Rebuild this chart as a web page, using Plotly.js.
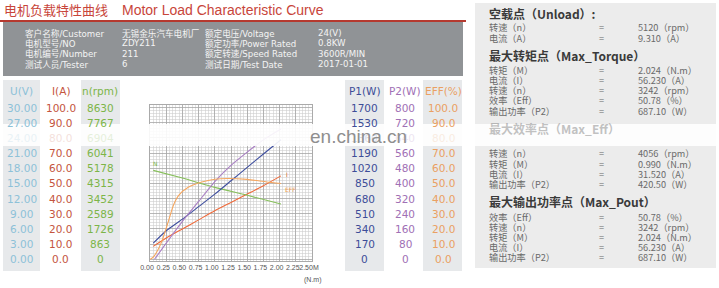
<!DOCTYPE html>
<html><head><meta charset="utf-8">
<script src="https://cdn.plot.ly/plotly-3.0.1.min.js"></script>
<style>html,body{margin:0;padding:0;background:#fff}#chart{width:719px;height:288px}</style>
</head><body><div id="chart"></div>
<script>
const W = 719, H = 288;

// ---- axis tick labels ----
const torqueTickVals = [0, 0.25, 0.5, 0.75, 1.0, 1.25, 1.5, 1.75, 2.0, 2.25, 2.5];
const torqueTickText = ['0.00','0.25','0.50','0.75','1.00','1.25','1.50','1.75','2.00','2.25','2.50M'];

const uTickVals = [0, 3, 6, 9, 12, 15, 18, 21, 24, 27, 30];
const uTickText = ['0.00','3.00','6.00','9.00','12.00','15.00','18.00','21.00','24.00','27.00','30.00'];
const iTickVals = [0, 10, 20, 30, 40, 50, 60, 70, 80, 90, 100];
const iTickText = ['0.0','10.0','20.0','30.0','40.0','50.0','60.0','70.0','80.0','90.0','100.0'];
const nTickVals = [0, 863, 1726, 2589, 3452, 4315, 5178, 6041, 6904, 7767, 8630];
const nTickText = ['0','863','1726','2589','3452','4315','5178','6041','6904','7767','8630'];
const p1TickVals = [0, 170, 340, 510, 680, 850, 1020, 1190, 1360, 1530, 1700];
const p1TickText = ['0','170','340','510','680','850','1020','1190','1360','1530','1700'];
const p2TickVals = [0, 80, 160, 240, 320, 400, 480, 560, 640, 720, 800];
const p2TickText = ['0','80','160','240','320','400','480','560','640','720','800'];
const effTickVals = [0, 10, 20, 30, 40, 50, 60, 70, 80, 90, 100];
const effTickText = ['0.0','10.0','20.0','30.0','40.0','50.0','60.0','70.0','80.0','90.0','100.0'];

// ---- curves (torque in N.m) ----
const nTorque = [0.05, 0.5, 1.0, 1.5, 2.02];
const nSpeed  = [5060, 4620, 4090, 3640, 3150];
const iTorque  = [0.05, 0.25, 0.5, 0.75, 1.0, 1.25, 1.5, 1.75, 2.02];
const iCurrent = [8.5, 14, 20, 26, 32, 37.5, 43, 48.5, 55];
const p1Torque = [0.05, 0.25, 0.5, 0.75, 1.0, 1.25, 1.5, 1.75, 2.02];
const p1Power  = [180, 320, 450, 590, 730, 880, 1030, 1180, 1340];
const p2Torque = [0.07, 0.25, 0.5, 0.75, 1.0, 1.25, 1.5, 1.75, 2.02];
const p2Power  = [0, 85, 200, 305, 410, 495, 565, 630, 687];
const effTorque = [0, 0.05, 0.1, 0.18, 0.28, 0.36, 0.44, 0.59, 0.8, 1.0, 1.2, 1.5, 1.8, 2.02];
const effValue  = [0, 1.5, 4.5, 11.5, 24.5, 35.5, 42, 47.5, 51, 52.8, 53.3, 52.7, 51, 50];

// ---- info texts ----
const infoLabels1 = ['客户名称/Customer','电机型号/NO','电机编号/Number','测试人员/Tester'];
const infoValues1 = ['无锡金乐汽车电机厂','ZDY211','211','6'];
const infoLabels2 = ['额定电压/Voltage','额定功率/Power Rated','额定转速/Speed Rated','测试日期/Test Date'];
const infoValues2 = ['24(V)','0.8KW','3600R/MIN','2017-01-01'];

const panelHeaders = [
  ['空载点（Unload）:', 13.7],
  ['最大转矩点（Max_Torque）', 55],
  ['最大效率点（Max_Eff）', 128.5],
  ['最大输出功率点（Max_Pout）', 201.7]
];
const panelItems = [
  ['转速（n）','5120（rpm）',27.3],
  ['电流（A）','9.310（A）',37.7],
  ['转矩（M）','2.024（N.m）',70],
  ['电流（I）','56.230（A）',80],
  ['转速（n）','3242（rpm）',90],
  ['效率（Eff）','50.78（%）',100],
  ['输出功率（P2）','687.10（W）',110.5],
  ['转速（n）','4056（rpm）',153.3],
  ['转矩（M）','0.990（N.m）',163.8],
  ['电流（I）','31.520（A）',174],
  ['输出功率（P2）','420.50（W）',184.2],
  ['效率（Eff）','50.78（%）',217.3],
  ['转速（n）','3242（rpm）',227.3],
  ['转矩（M）','2.024（N.m）',237.3],
  ['电流（I）','56.230（A）',247.3],
  ['输出功率（P2）','687.10（W）',257.3]
];

// ---- geometry helpers ----
const px = x => x / W;
const py = y => 1 - y / H;
const ROW0 = 259.3, ROWH = 15.17;
const yLo = -0.1, yHi = 10.2;
const domBot = ROW0 - yLo * ROWH, domTop = ROW0 - yHi * ROWH;
const yDomain = [py(domBot), py(domTop)];
const xDomain = [px(150), px(312)];
const bandTop = 124, bandBot = 146;

const CUST = {
  u:  {vals: uTickVals,  text: uTickText,  color: '#8dc1d8', header: 'U(V)',   cx: 21.5, ax: 'y2'},
  i:  {vals: iTickVals,  text: iTickText,  color: '#c4553e', header: 'I(A)',   cx: 61,   ax: 'y3'},
  n:  {vals: nTickVals,  text: nTickText,  color: '#7cb548', header: 'n(rpm)', cx: 100,  ax: 'y4'},
  p1: {vals: p1TickVals, text: p1TickText, color: '#3d4d98', header: 'P1(W)',  cx: 365,  ax: 'y5'},
  p2: {vals: p2TickVals, text: p2TickText, color: '#a070b5', header: 'P2(W)',  cx: 405,  ax: 'y6'},
  eff:{vals: effTickVals,text: effTickText,color: '#eaa062', header: 'EFF(%)', cx: 443,  ax: 'y7'}
};

const layout = {
  width: W, height: H,
  margin: {l: 0, r: 0, t: 0, b: 0},
  paper_bgcolor: '#ffffff', plot_bgcolor: 'rgba(0,0,0,0)',
  showlegend: false,
  font: {family: 'DejaVu Sans, Noto Sans CJK SC', size: 10, color: '#555'},
  // grid + torque labels
  xaxis: {
    domain: xDomain, range: [0, 2.5], anchor: 'y',
    tickmode: 'array', tickvals: torqueTickVals, ticktext: torqueTickText,
    tickangle: 0,
    tickfont: {family: 'Liberation Sans Narrow, Liberation Sans', size: 7, color: '#555'},
    ticklabelshift: -3,
    showgrid: true, gridcolor: '#a6a6a6', gridwidth: 0.8,
    minor: {dtick: 0.05, tick0: 0, showgrid: true, gridcolor: '#cfcfcf', gridwidth: 0.6, ticks: ''},
    zeroline: false, showline: true, linecolor: '#aaaaaa', linewidth: 1, mirror: true,
    ticks: '', fixedrange: true
  },
  yaxis: {
    domain: yDomain, range: [yLo, yHi], anchor: 'x',
    tickmode: 'linear', tick0: 0, dtick: 1,
    showticklabels: false, ticks: '',
    showgrid: true, gridcolor: '#a6a6a6', gridwidth: 0.8,
    minor: {dtick: 0.2, tick0: 0, showgrid: true, gridcolor: '#cfcfcf', gridwidth: 0.6, ticks: ''},
    zeroline: false, showline: true, linecolor: '#aaaaaa', linewidth: 1, mirror: true,
    fixedrange: true
  },
  // torque axis used by the curves (same scale, hidden)
  xaxis2: {
    domain: xDomain, range: [0, 2.5], anchor: 'y2',
    showticklabels: false, showgrid: false, zeroline: false, showline: false, ticks: '', fixedrange: true
  },
  shapes: [], annotations: []
};

// one hidden axis per physical quantity, stacked on the same area
Object.values(CUST).forEach(c => {
  const s = c.vals[c.vals.length - 1] / 10;
  layout['yaxis' + c.ax.slice(1)] = {
    domain: yDomain, anchor: 'x2',
    range: [yLo * s, yHi * s],
    showticklabels: false, showgrid: false, zeroline: false, showline: false, ticks: '',
    fixedrange: true
  };
});

// title
layout.annotations.push(
  {xref: 'paper', yref: 'paper', x: px(2), y: py(9.5), xanchor: 'left', yanchor: 'middle', showarrow: false,
   text: '电机负载特性曲线', font: {family: 'Noto Sans CJK SC', size: 13, color: '#c8453a'}},
  {xref: 'paper', yref: 'paper', x: px(120), y: py(9.5), xanchor: 'left', yanchor: 'middle', showarrow: false,
   text: 'Motor Load Characteristic Curve', font: {family: 'Liberation Sans', size: 14, color: '#c8453a'}}
);

// info box
layout.shapes.push(
  {type: 'rect', xref: 'paper', yref: 'paper', x0: px(3), x1: px(463), y0: py(76), y1: py(22),
   fillcolor: '#909396', line: {width: 0}, layer: 'below'},
  {type: 'line', xref: 'paper', yref: 'paper', x0: px(0), x1: px(466), y0: py(21), y1: py(21),
   line: {color: '#b5392f', width: 2}, layer: 'below'}
);
const infoRowsY = [33.3, 43.5, 53.8, 64.2];
infoRowsY.forEach((yy, k) => {
  [[infoLabels1, 23], [infoValues1, 120], [infoLabels2, 203], [infoValues2, 316]].forEach(([arr, xx]) => {
    layout.annotations.push({xref: 'paper', yref: 'paper', x: px(xx), y: py(yy), xanchor: 'left', yanchor: 'middle',
      showarrow: false, text: arr[k], font: {family: 'DejaVu Sans, Noto Sans CJK SC', size: 8.6, color: '#f4f4f4'}});
  });
});

// column backgrounds
[[3, 40], [81, 120], [345, 384], [423, 462]].forEach(([a, b]) => {
  layout.shapes.push({type: 'rect', xref: 'paper', yref: 'paper', x0: px(a), x1: px(b), y0: py(271), y1: py(80),
    fillcolor: '#e7e9eb', line: {width: 0}, layer: 'below'});
});

// column labels, positioned through each quantity's own axis
Object.values(CUST).forEach(c => {
  const s = c.vals[c.vals.length - 1] / 10;
  layout.annotations.push({xref: 'paper', yref: 'paper', x: px(c.cx), y: py(91.5), xanchor: 'center', yanchor: 'middle',
    showarrow: false, text: c.header, font: {family: 'DejaVu Sans', size: 10.5, color: c.color}});
  c.vals.forEach((v, k) => {
    const pix = ROW0 - (v / s) * ROWH;
    const inBand = pix > bandTop && pix < bandBot;
    layout.annotations.push({xref: 'paper', yref: c.ax, x: px(c.cx), y: v, xanchor: 'center', yanchor: 'middle',
      showarrow: false, text: c.text[k], opacity: inBand ? 0.18 : 1,
      font: {family: 'DejaVu Sans', size: 10.5, color: c.color}});
  });
});

// right panel
layout.shapes.push({type: 'rect', xref: 'paper', yref: 'paper', x0: px(475), x1: px(716), y0: py(268), y1: py(3),
  fillcolor: '#ececec', line: {width: 0}, layer: 'below'});
panelHeaders.forEach(([t, yy]) => {
  const inBand = yy > bandTop && yy < bandBot;
  layout.annotations.push({xref: 'paper', yref: 'paper', x: px(487), y: py(yy), xanchor: 'left', yanchor: 'middle',
    showarrow: false, text: '<b>' + t + '</b>', opacity: inBand ? 0.3 : 1,
    font: {family: 'Noto Sans CJK SC', size: 12, color: '#3a3a3a'}});
});
panelItems.forEach(([lab, val, yy]) => {
  const f = {family: 'Noto Sans CJK SC', size: 9.2, color: '#6a6a6a'};
  layout.annotations.push(
    {xref: 'paper', yref: 'paper', x: px(487), y: py(yy), xanchor: 'left', yanchor: 'middle', showarrow: false, text: lab, font: f},
    {xref: 'paper', yref: 'paper', x: px(601.5), y: py(yy), xanchor: 'center', yanchor: 'middle', showarrow: false, text: '=', font: f},
    {xref: 'paper', yref: 'paper', x: px(636), y: py(yy), xanchor: 'left', yanchor: 'middle', showarrow: false, text: val, font: f}
  );
});

// axis unit and curve labels
layout.annotations.push(
  {xref: 'paper', yref: 'paper', x: px(313), y: py(280), xanchor: 'center', yanchor: 'middle', showarrow: false,
   text: '(N.m)', font: {family: 'Liberation Sans Narrow, Liberation Sans', size: 7, color: '#555'}},
  {xref: 'x', yref: 'paper', x: 0.09, y: py(163), xanchor: 'center', yanchor: 'middle', showarrow: false,
   text: 'N', font: {size: 6, color: '#7cb548'}},
  {xref: 'x', yref: 'paper', x: 2.07, y: py(174), xanchor: 'left', yanchor: 'middle', showarrow: false,
   text: 'I', font: {size: 6, color: '#ef6a3a'}},
  {xref: 'x', yref: 'paper', x: 2.05, y: py(189), xanchor: 'left', yanchor: 'middle', showarrow: false,
   text: 'EFF', font: {size: 6, color: '#f0a050'}}
);

// watermark band
layout.shapes.push({type: 'rect', xref: 'paper', yref: 'paper', x0: 0, x1: 1, y0: py(bandBot), y1: py(bandTop),
  fillcolor: '#ffffff', opacity: 0.9, line: {width: 0}, layer: 'above'});
layout.annotations.push({xref: 'paper', yref: 'paper', x: px(358.5), y: py(136), xanchor: 'center', yanchor: 'middle',
  showarrow: false, text: 'en.china.cn', font: {family: 'Liberation Sans', size: 19, color: '#8f8f8f'}});

const line = (x, y, ax, color) => ({type: 'scatter', mode: 'lines', x, y, yaxis: ax, xaxis: 'x2',
  line: {color, width: 1.1, shape: 'spline', smoothing: 0.6}, hoverinfo: 'skip'});

const data = [
  line(nTorque, nSpeed, 'y4', '#86bf5a'),
  line(effTorque, effValue, 'y7', '#f5a65e'),
  line(iTorque, iCurrent, 'y3', '#ef6a3a'),
  line(p1Torque, p1Power, 'y5', '#3f4f9f'),
  line(p2Torque, p2Power, 'y6', '#a97fc4')
];

Plotly.newPlot('chart', data, layout, {staticPlot: true, displayModeBar: false});
</script>
</body></html>
